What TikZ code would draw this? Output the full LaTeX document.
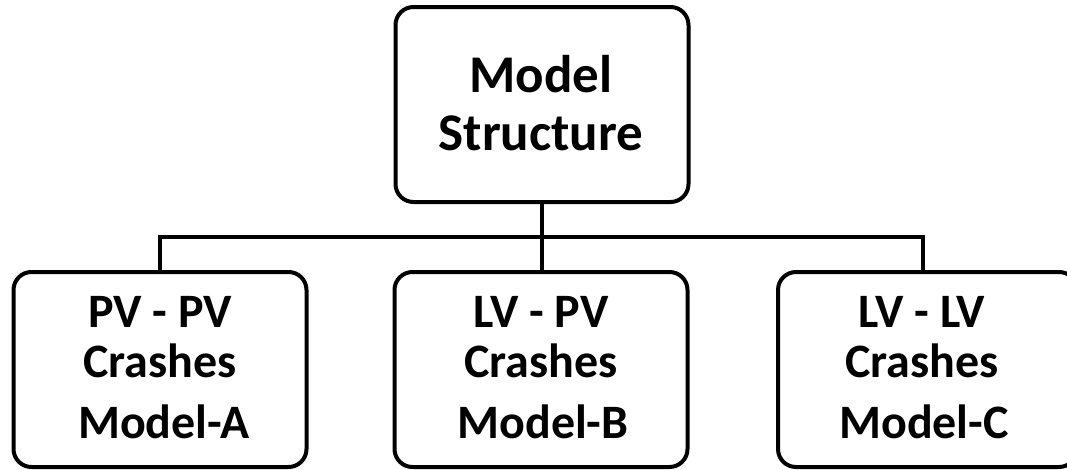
\documentclass[tikz,border=0pt]{standalone}
\usepackage{fontspec}
\setmainfont{Carlito}
\begin{document}
\begin{tikzpicture}[x=1pt,y=-1pt,
  box/.style={draw=black,line width=4pt,rounded corners=18pt,minimum width=293pt,minimum height=195pt,inner sep=0pt,outer sep=0pt},
  lbl/.style={anchor=base,inner sep=0pt,font=\fontsize{48}{48}\selectfont\bfseries},
  toplbl/.style={lbl,font=\fontsize{53}{53}\selectfont\bfseries},
  conn/.style={line width=4pt}]
\useasboundingbox (0,0) rectangle (1067,469);
\node[box] (top) at (542,104.5) {};
\node[box] (a) at (160,369.5) {};
\node[box] (b) at (541,369.5) {};
\node[box,minimum width=299pt] (c) at (927.5,369.5) {};
\node[toplbl] (t1) at (541,92) {Model};
\node[toplbl] (t2) at (541,150) {Structure};
\node[lbl] (a1) at (160,327) {PV - PV};
\node[lbl] (a2) at (160,377) {Crashes};
\node[lbl] (a3) at (164,438) {Model-A};
\node[lbl] (b1) at (541,327) {LV - PV};
\node[lbl] (b2) at (541,377) {Crashes};
\node[lbl] (b3) at (543,438) {Model-B};
\node[lbl] (c1) at (922,327) {LV - LV};
\node[lbl] (c2) at (922,377) {Crashes};
\node[lbl] (c3) at (924,438) {Model-C};
\coordinate (hj) at (542,237);
\draw[conn] (top.south) -- (hj);
\draw[conn] (hj) -- (b.north -| hj);
\draw[conn] (a.north -| 160,0) -- (160,237) -- (923,237) -- (c.north -| 923,0);
\end{tikzpicture}
\end{document}
